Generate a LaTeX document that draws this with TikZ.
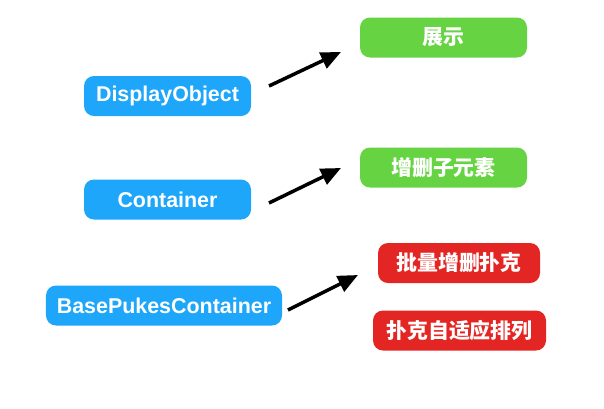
\documentclass[tikz,border=0pt]{standalone}
\usepackage{fontspec}
\setmainfont{Liberation Sans}
\newfontfamily\cjk{Noto Sans CJK SC}
\usetikzlibrary{arrows.meta}
\definecolor{boxblue}{RGB}{30,166,250}
\definecolor{boxgreen}{RGB}{102,212,66}
\definecolor{boxred}{RGB}{227,38,36}

\begin{document}
\begin{tikzpicture}[x=1bp,y=-1bp,
	classbox/.style={fill=boxblue, rounded corners=10bp, text=white, font=\fontsize{21.5}{21.5}\selectfont\bfseries, minimum height=40bp, inner sep=0pt},
	featbox/.style={rounded corners=10bp, text=white, font=\fontsize{21}{21}\selectfont\cjk\bfseries, minimum height=40bp, inner sep=0pt},
	arr/.style={line width=3.5bp, -{Triangle[length=20bp,width=17bp]}}]
		%%%%% START %%%%%
		\useasboundingbox (0,0) rectangle (604,408);
		
		\node[classbox, minimum width=167bp] (disp) at (167.5,96) {DisplayObject};
		\node[classbox, minimum width=167bp] (cont) at (167.5,199.5) {Container};
		\node[classbox, minimum width=236bp] (pukes) at (164,305.5) {BasePukesContainer};
		
		\node[featbox, fill=boxgreen, minimum width=167bp] (show) at (443.5,37.5) {展示};
		\node[featbox, fill=boxgreen, minimum width=167bp] (child) at (443.5,167.5) {增删子元素};
		\node[featbox, fill=boxred, minimum width=162bp] (batch) at (459,263) {批量增删扑克};
		\node[featbox, fill=boxred, minimum width=173bp] (layout) at (459.5,330.5) {扑克自适应排列};
		
		\coordinate (a1s) at (269,86);
		\coordinate (a1e) at (341,52);
		\coordinate (a2s) at (269,203);
		\coordinate (a2e) at (341,168);
		\coordinate (a3s) at (288,310);
		\coordinate (a3e) at (358,275);
		
		\draw[arr] (a1s) -- (a1e);
		\draw[arr] (a2s) -- (a2e);
		\draw[arr] (a3s) -- (a3e);
		
		%%%%% END %%%%%
	\end{tikzpicture}
\end{document}
